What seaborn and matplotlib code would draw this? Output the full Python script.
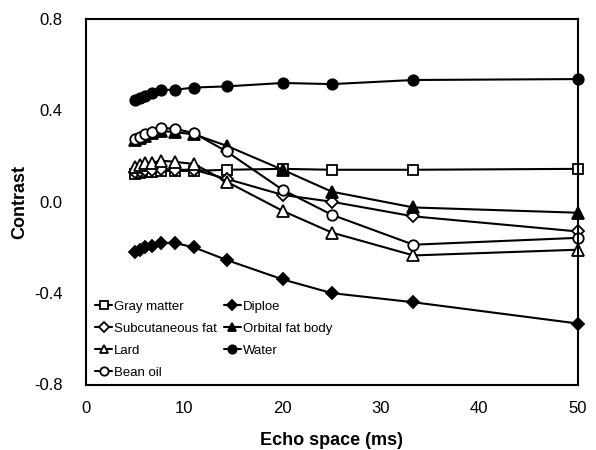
import numpy as np
import pandas as pd
import matplotlib
matplotlib.use("Agg")
import matplotlib.pyplot as plt
import seaborn as sns

# echo spacings (ms)
echo_space = [5.0, 5.5, 6.0, 6.7, 7.6, 9.0, 11.0, 14.3, 20.0, 25.0, 33.3, 50.0]

gray_matter = [0.12, 0.125, 0.13, 0.13, 0.135, 0.135, 0.135, 0.14, 0.144, 0.14, 0.14, 0.144]
diploe = [-0.219, -0.21, -0.20, -0.195, -0.18, -0.18, -0.20, -0.255, -0.34, -0.40, -0.44, -0.533]
subcutaneous_fat = [0.13, 0.135, 0.14, 0.14, 0.145, 0.14, 0.14, 0.10, 0.03, 0.0, -0.064, -0.13]
orbital_fat_body = [0.27, 0.28, 0.29, 0.30, 0.31, 0.305, 0.295, 0.245, 0.14, 0.044, -0.025, -0.048]
lard = [0.15, 0.16, 0.17, 0.17, 0.18, 0.175, 0.165, 0.088, -0.04, -0.135, -0.235, -0.21]
water = [0.446, 0.455, 0.465, 0.475, 0.49, 0.49, 0.50, 0.505, 0.52, 0.515, 0.533, 0.537]
bean_oil = [0.275, 0.285, 0.297, 0.306, 0.323, 0.32, 0.30, 0.22, 0.052, -0.057, -0.188, -0.158]

# name, values, marker, filled?
series = [
    ("Gray matter", gray_matter, "s", False),
    ("Diploe", diploe, "D", True),
    ("Subcutaneous fat", subcutaneous_fat, "D", False),
    ("Orbital fat body", orbital_fat_body, "^", True),
    ("Lard", lard, "^", False),
    ("Water", water, "o", True),
    ("Bean oil", bean_oil, "o", False),
]

sns.set_style("white")
plt.rcParams["font.family"] = ["Liberation Sans", "DejaVu Sans"]
plt.rcParams["axes.unicode_minus"] = False
plt.rcParams["text.color"] = "black"
plt.rcParams["axes.labelcolor"] = "black"

fig = plt.figure(figsize=(5.96, 4.5), dpi=100)
ax = fig.add_axes([86 / 596, 1 - 384.5 / 450, 491.7 / 596, 365.5 / 450])

for name, vals, mk, filled in series:
    df = pd.DataFrame({"x": echo_space, "y": vals})
    size = 6 if mk == "D" else 7.5
    if mk == "^":
        size = 8
    sns.lineplot(data=df, x="x", y="y", ax=ax, color="black", linewidth=1.5,
                 marker=mk, markersize=size, markeredgewidth=1.3,
                 markeredgecolor="black",
                 markerfacecolor="black" if filled else "white",
                 label=name, estimator=None, sort=False, clip_on=False)

ax.set_xlim(0, 50)
ax.set_ylim(-0.8, 0.8)
ax.set_xticks([0, 10, 20, 30, 40, 50])
ax.set_yticks([-0.8, -0.4, 0.0, 0.4, 0.8])
ax.set_yticklabels(["-0.8", "-0.4", "0.0", "0.4", "0.8"])

for sp in ax.spines.values():
    sp.set_visible(True)
    sp.set_color("black")
    sp.set_linewidth(1.5)

ax.tick_params(axis="both", direction="in", length=4, width=1.5, colors="black",
               labelsize=12, top=False, right=False)
ax.tick_params(axis="x", pad=12)
ax.tick_params(axis="y", pad=17)

ax.set_xlabel("Echo space (ms)", fontsize=13, fontweight="bold", color="black")
ax.set_ylabel("Contrast", fontsize=13, fontweight="bold", color="black")
ax.xaxis.set_label_coords(0.5, -0.13)
ax.yaxis.set_label_coords(-0.118, 0.5)

handles, labels = ax.get_legend_handles_labels()
order = ["Gray matter", "Subcutaneous fat", "Lard", "Bean oil",
         "Diploe", "Orbital fat body", "Water"]
hmap = dict(zip(labels, handles))
ax.legend([hmap[k] for k in order], order, ncol=2, frameon=False,
          loc="lower left", bbox_to_anchor=(0.0, -0.01), fontsize=9.5,
          handlelength=1.3, handletextpad=0.15, columnspacing=0.5,
          labelspacing=0.75, borderaxespad=0.3, markerscale=0.8,
          labelcolor="black")

fig.savefig("out.png", dpi=100)
